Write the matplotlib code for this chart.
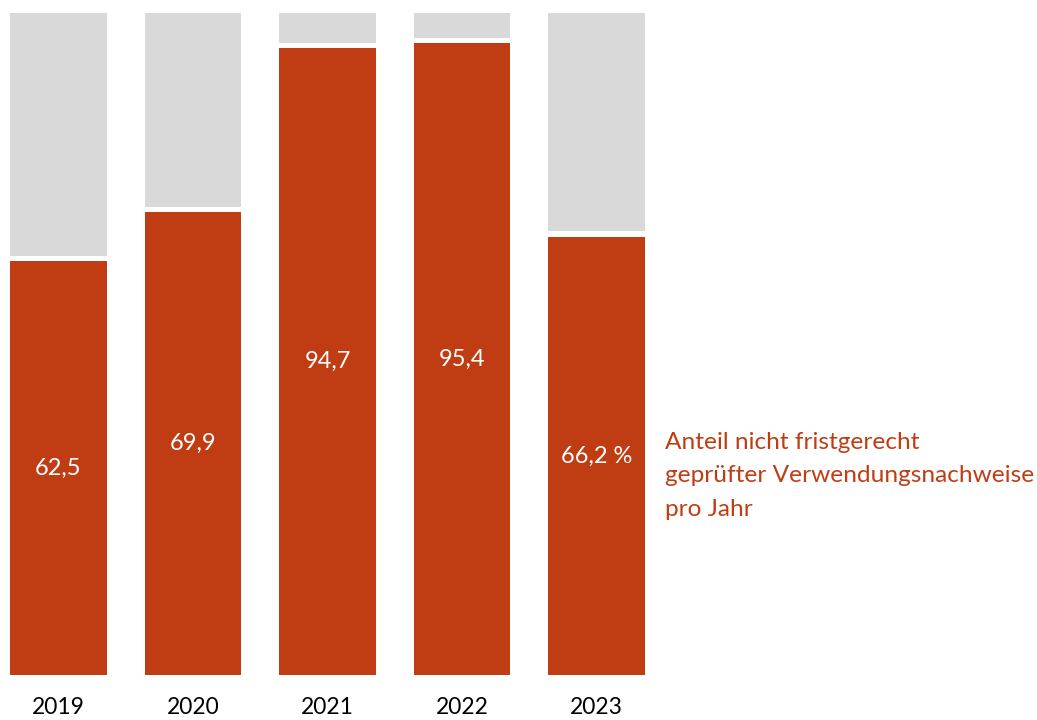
import matplotlib.pyplot as plt

jahre = ['2019', '2020', '2021', '2022', '2023']
anteil = [62.5, 69.9, 94.7, 95.4, 66.2]
werte_text = ['62,5', '69,9', '94,7', '95,4', '66,2 %']
legende = 'Anteil nicht fristgerecht\ngeprüfter Verwendungsnachweise\npro Jahr'

rot = '#C03D14'
grau = '#D9D9D9'
plt.rcParams['font.family'] = ['Lato', 'DejaVu Sans']

fig = plt.figure(figsize=(10.37, 7.2), dpi=100)
ax = fig.add_axes([10/1037, 45/720, 635/1037, 662/720])

x = range(len(jahre))
breite = 0.72
luecke = 0.8
ax.bar(x, anteil, width=breite, color=rot)
ax.bar(x, [100 - a - luecke for a in anteil], bottom=[a + luecke for a in anteil],
       width=breite, color=grau)

for i, a in enumerate(anteil):
    ax.text(i, a / 2, werte_text[i], ha='center', va='center', color='white', fontsize=17)

ax.set_xlim(-breite / 2, len(jahre) - 1 + breite / 2)
ax.set_ylim(0, 100)
ax.set_xticks(list(x))
ax.set_xticklabels(jahre, fontsize=16.4)
ax.tick_params(axis='x', length=0, pad=16)
ax.set_yticks([])
for s in ax.spines.values():
    s.set_visible(False)

fig.text(665/1037, 1 - 476/720, legende, color=rot, fontsize=17.6, va='center',
         ha='left', linespacing=1.75)

fig.savefig('out.png', dpi=100)
